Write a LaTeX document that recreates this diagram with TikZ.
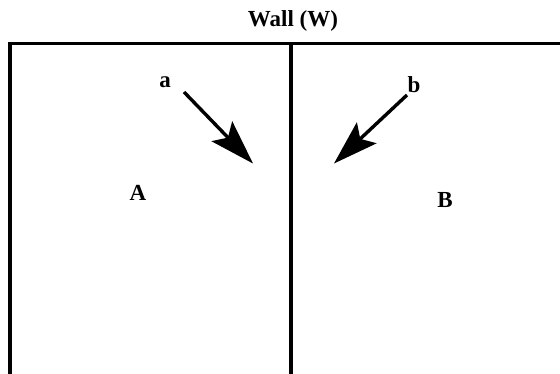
\documentclass[tikz,border=0pt]{standalone}
\usepackage{fontspec}
\setmainfont{Liberation Serif}
\usetikzlibrary{positioning,arrows.meta}

\begin{document}
\begin{tikzpicture}[
  x=1pt,y=-1pt,
  wall/.style={line width=3.3pt,line cap=butt},
  lbl/.style={font=\fontsize{23}{26}\selectfont\bfseries,inner sep=0pt},
  ar/.style={-{Stealth[length=45pt,width=29pt,inset=9pt,line width=0pt]},line width=3.4pt}]
\useasboundingbox (0,0) rectangle (560,374);
% walls
\draw[wall] (10,374) -- (10,43.5) -- (560,43.5);
\draw[wall] (291,43.5) -- (291,374);
% labels
\node[lbl] (wall) at (293,21) {Wall (W)};
\node[lbl] (A) at (138,193) {A};
\node[lbl] (B) at (445,200) {B};
\node[lbl] (a) at (165,82) {a};
\node[lbl] (b) at (414,85) {b};
% arrows
\coordinate (at) at (184,92);
\coordinate (ah) at (253,163.5);
\coordinate (bt) at (407,95);
\coordinate (bh) at (334,163.5);
\draw[ar] (at) -- (ah);
\draw[ar] (bt) -- (bh);
\end{tikzpicture}
\end{document}
